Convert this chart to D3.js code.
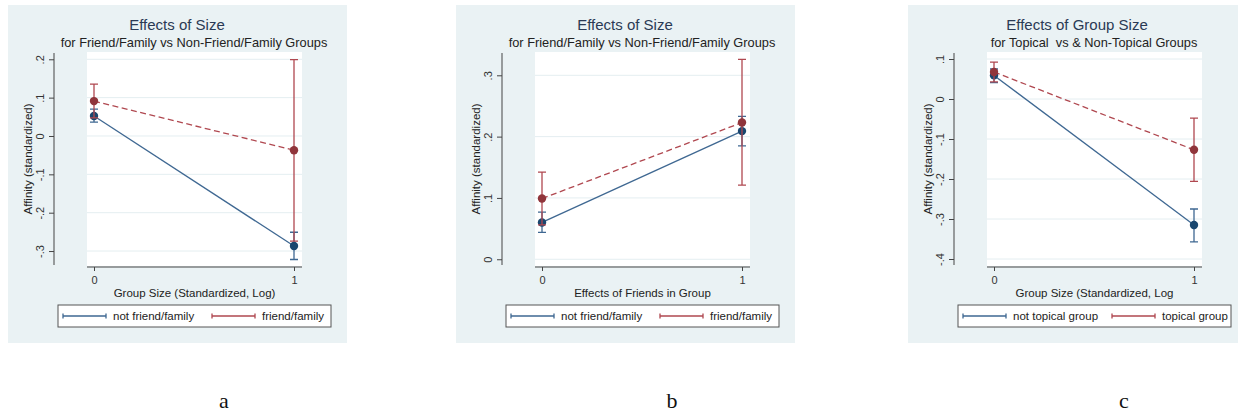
<!DOCTYPE html>
<html>
<head>
<meta charset="utf-8">
<script src="https://cdn.jsdelivr.net/npm/d3@7"></script>
<style>
  body { margin: 0; background: #fff; }
  svg { display: block; }
  text { white-space: pre; }
</style>
</head>
<body>
<div id="chart"></div>
<script>
// shared x levels
let xLevels = [0, 1];

// panel a: group size, friend/family vs not
let aNotMean = [0.052, -0.287];
let aNotLo = [0.036, -0.322];
let aNotHi = [0.070, -0.251];
let aFFMean = [0.091, -0.037];
let aFFLo = [0.047, -0.274];
let aFFHi = [0.135, 0.199];
let aTicks = [0.2, 0.1, 0, -0.1, -0.2, -0.3];

// panel b: friends in group
let bNotMean = [0.060, 0.209];
let bNotLo = [0.044, 0.185];
let bNotHi = [0.077, 0.233];
let bFFMean = [0.099, 0.223];
let bFFLo = [0.056, 0.121];
let bFFHi = [0.142, 0.326];
let bTicks = [0, 0.1, 0.2, 0.3];

// panel c: topical vs non-topical
let cNotMean = [0.059, -0.315];
let cNotLo = [0.041, -0.357];
let cNotHi = [0.075, -0.275];
let cTopMean = [0.0675, -0.127];
let cTopLo = [0.043, -0.206];
let cTopHi = [0.092, -0.048];
let cTicks = [0.1, 0, -0.1, -0.2, -0.3, -0.4];

let titles = ["Effects of Size", "Effects of Size", "Effects of Group Size"];
let subtitles = ["for Friend/Family vs Non-Friend/Family Groups",
                 "for Friend/Family vs Non-Friend/Family Groups",
                 "for Topical  vs & Non-Topical Groups"];
let xTitles = ["Group Size (Standardized, Log)", "Effects of Friends in Group", "Group Size (Standardized, Log"];
let yTitle = "Affinity (standardized)";
let legendA = ["not friend/family", "friend/family"];
let legendC = ["not topical group", "topical group"];
let captions = ["a", "b", "c"];
let yDomains = [[-0.339, 0.219], [-0.011, 0.338], [-0.4175, 0.1175]];

let panels = [
  { left: 8, ticks: aTicks, series: [
      { mean: aNotMean, lo: aNotLo, hi: aNotHi },
      { mean: aFFMean, lo: aFFLo, hi: aFFHi } ], legend: legendA },
  { left: 456, ticks: bTicks, series: [
      { mean: bNotMean, lo: bNotLo, hi: bNotHi },
      { mean: bFFMean, lo: bFFLo, hi: bFFHi } ], legend: legendA },
  { left: 908, ticks: cTicks, series: [
      { mean: cNotMean, lo: cNotLo, hi: cNotHi },
      { mean: cTopMean, lo: cTopLo, hi: cTopHi } ], legend: legendC }
];

let width = 1238, height = 414;
let bgColor = "#eaf2f4";
let lineColors = ["#3f6892", "#b04850"];
let markColors = ["#1a476f", "#90353b"];
let font = "'Liberation Sans', Arial, sans-serif";

// Stata style labels: .1, 0, -.1
let fmt = v => {
  if (Math.abs(v) < 1e-9) return "0";
  return d3.format(".1f")(v).replace("\u2212", "-").replace("0.", ".");
};

const svg = d3.select("#chart").append("svg")
  .attr("width", width)
  .attr("height", height)
  .attr("viewBox", [0, 0, width, height]);

panels.forEach(function(p, i) {
  let L = p.left;
  let g = svg.append("g");

  g.append("rect")
    .attr("x", L).attr("y", 5)
    .attr("width", Math.min(339, width - L)).attr("height", 338)
    .attr("fill", bgColor);

  let plotTop = 52, plotBottom = 266;
  let plotLeft = L + 79, plotRight = L + 294;

  g.append("rect")
    .attr("x", plotLeft).attr("y", plotTop)
    .attr("width", plotRight - plotLeft).attr("height", plotBottom - plotTop)
    .attr("fill", "#fff");

  let x = d3.scaleLinear()
    .domain([-0.035, 1.04])
    .range([plotLeft, plotRight]);

  let y = d3.scaleLinear()
    .domain(yDomains[i])
    .range([plotBottom, plotTop]);

  // grid
  g.append("g")
    .selectAll("line")
    .data(p.ticks)
    .join("line")
      .attr("x1", plotLeft).attr("x2", plotRight)
      .attr("y1", d => y(d)).attr("y2", d => y(d))
      .attr("stroke", "#e4eef1")
      .attr("stroke-width", 1);

  // y axis
  let yAxis = g.append("g")
    .attr("transform", `translate(${L + 46},0)`)
    .call(d3.axisLeft(y).tickValues(p.ticks).tickFormat(fmt).tickSize(5).tickSizeOuter(0));
  yAxis.select(".domain").attr("stroke", "#444").attr("d", `M0,${plotTop + 1}V${plotBottom - 1}`);
  yAxis.selectAll(".tick line").attr("stroke", "#444");
  yAxis.selectAll(".tick text")
    .attr("font-family", font).attr("font-size", 11).attr("fill", "#333")
    .attr("x", 0).attr("dy", 0)
    .attr("text-anchor", "middle")
    .attr("transform", "translate(-10,0) rotate(-90)");

  // x axis
  let xAxis = g.append("g")
    .attr("transform", `translate(0,${plotBottom + 1})`)
    .call(d3.axisBottom(x).tickValues(xLevels).tickFormat(d3.format("d")).tickSize(4).tickSizeOuter(0));
  xAxis.select(".domain").attr("stroke", "#444").attr("d", `M${plotLeft},0H${plotRight}`);
  xAxis.selectAll(".tick line").attr("stroke", "#444");
  xAxis.selectAll(".tick text")
    .attr("font-family", font).attr("font-size", 11).attr("fill", "#333")
    .attr("y", 9);

  // titles
  g.append("text")
    .attr("x", L + 169).attr("y", 30)
    .attr("text-anchor", "middle")
    .attr("font-family", font).attr("font-size", 15)
    .attr("fill", "#2a3a55")
    .text(titles[i]);
  g.append("text")
    .attr("x", L + 186).attr("y", 47)
    .attr("text-anchor", "middle")
    .attr("font-family", font).attr("font-size", 12.8)
    .attr("fill", "#222")
    .text(subtitles[i]);

  g.append("text")
    .attr("x", (plotLeft + plotRight) / 2).attr("y", 297)
    .attr("text-anchor", "middle")
    .attr("font-family", font).attr("font-size", 11.5)
    .attr("fill", "#222")
    .text(xTitles[i]);

  g.append("text")
    .attr("transform", `translate(${L + 24},${(plotTop + plotBottom) / 2}) rotate(-90)`)
    .attr("text-anchor", "middle")
    .attr("font-family", font).attr("font-size", 11.5)
    .attr("fill", "#222")
    .text(yTitle);

  // series: connecting lines, CIs, markers
  p.series.forEach(function(s, k) {
    let pts = xLevels.map((xv, j) => ({ x: xv, m: s.mean[j], lo: s.lo[j], hi: s.hi[j] }));
    let sg = g.append("g");

    sg.append("path")
      .datum(pts)
      .attr("fill", "none")
      .attr("stroke", lineColors[k])
      .attr("stroke-width", 1.3)
      .attr("stroke-dasharray", k === 1 ? "6,3.5" : null)
      .attr("d", d3.line().x(d => x(d.x)).y(d => y(d.m)));

    sg.selectAll(".ci")
      .data(pts)
      .join("path")
        .attr("fill", "none")
        .attr("stroke", lineColors[k])
        .attr("stroke-width", 1.3)
        .attr("d", d => `M${x(d.x)},${y(d.lo)}V${y(d.hi)}M${x(d.x) - 4},${y(d.lo)}h8M${x(d.x) - 4},${y(d.hi)}h8`);

    sg.selectAll("circle")
      .data(pts)
      .join("circle")
        .attr("cx", d => x(d.x))
        .attr("cy", d => y(d.m))
        .attr("r", 4.2)
        .attr("fill", markColors[k]);
  });

  // legend
  let lg = g.append("g").attr("transform", `translate(${L + 50},305)`);
  lg.append("rect")
    .attr("width", 273).attr("height", 22)
    .attr("fill", "#fff")
    .attr("stroke", "#555")
    .attr("stroke-width", 1);
  let itemX = [5, 154];
  p.legend.forEach(function(lab, k) {
    let ig = lg.append("g").attr("transform", `translate(${itemX[k]},11)`);
    ig.append("path")
      .attr("fill", "none")
      .attr("stroke", lineColors[k])
      .attr("stroke-width", 1.3)
      .attr("d", "M0,0H43M0,-2.5V2.5M43,-2.5V2.5");
    ig.append("text")
      .attr("x", 50).attr("y", 4)
      .attr("font-family", font).attr("font-size", 11.5)
      .attr("fill", "#222")
      .text(lab);
  });

  // caption
  svg.append("text")
    .attr("x", L + 216).attr("y", 408)
    .attr("text-anchor", "middle")
    .attr("font-family", "'Liberation Serif', 'Times New Roman', serif")
    .attr("font-size", 22)
    .attr("fill", "#111")
    .text(captions[i]);
});
</script>
</body>
</html>
